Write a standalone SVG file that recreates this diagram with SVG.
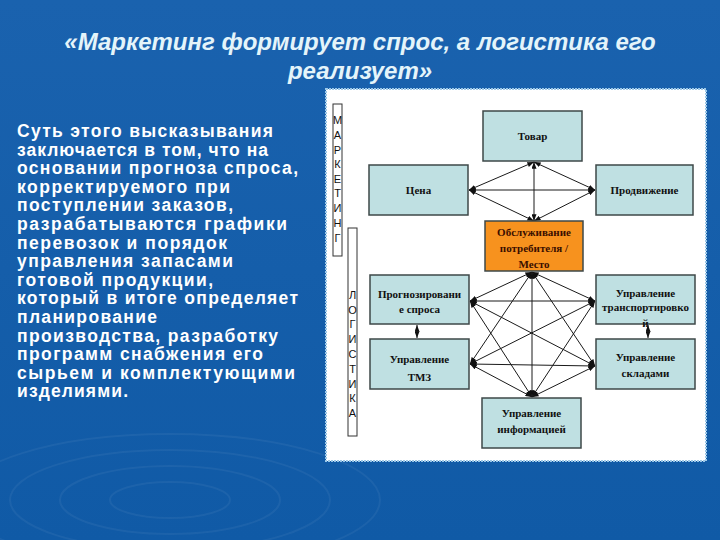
<svg xmlns="http://www.w3.org/2000/svg" width="720" height="540" viewBox="0 0 720 540">
<defs>
<linearGradient id="bg" x1="0" y1="0" x2="0" y2="1">
<stop offset="0" stop-color="#1A62AE"/>
<stop offset="1" stop-color="#105AA6"/>
</linearGradient>
<marker id="ar" viewBox="0 0 8 6" refX="8" refY="3" markerWidth="7" markerHeight="5" markerUnits="userSpaceOnUse" orient="auto-start-reverse">
<path d="M0,0 L8,3 L0,6 z" fill="#111"/>
</marker>
<style>
.title{font-family:"Liberation Sans",Arial,sans-serif;font-weight:bold;font-style:italic;font-size:24px;fill:#E4F4FA;text-anchor:middle}
.body{font-family:"Liberation Sans",Arial,sans-serif;font-weight:bold;font-size:17.5px;fill:#FFFFFF}
.box{fill:#BFE0E2;stroke:#3E4848;stroke-width:1.5}
.org{fill:#F7921E;stroke:#3E4848;stroke-width:1.5}
.lbl{font-family:"Liberation Serif","Times New Roman",serif;font-weight:bold;font-size:11px;fill:#111;text-anchor:middle}
.olbl{font-family:"Liberation Serif","Times New Roman",serif;font-weight:bold;font-size:11px;fill:#3A0E00;text-anchor:middle}
.vbar{fill:#FFFFFF;stroke:#333;stroke-width:1}
.vl{font-family:"Liberation Sans",Arial,sans-serif;font-size:11px;fill:#111;text-anchor:middle}
.c{stroke:#1A1A1A;stroke-width:1;fill:none;marker-start:url(#ar);marker-end:url(#ar)}
.rip{fill:none;stroke:#FFFFFF;stroke-opacity:0.05;stroke-width:2}
</style>
</defs>
<rect width="720" height="540" fill="url(#bg)"/>
<g id="ripples">
<ellipse class="rip" cx="170" cy="500" rx="60" ry="18"/>
<ellipse class="rip" cx="170" cy="500" rx="110" ry="34"/>
<ellipse class="rip" cx="170" cy="500" rx="160" ry="50"/>
<ellipse class="rip" cx="170" cy="500" rx="210" ry="66"/>
</g>
<g id="title">
<text class="title" x="360" y="50">«Маркетинг формирует спрос, а логистика его</text>
<text class="title" x="360" y="79">реализует»</text>
</g>
<g id="bodytext" class="body">
<text x="17" y="137" textLength="256" lengthAdjust="spacing">Суть этого высказывания</text>
<text x="17" y="155.6" textLength="251" lengthAdjust="spacing">заключается в том, что на</text>
<text x="17" y="174.2" textLength="281" lengthAdjust="spacing">основании прогноза спроса,</text>
<text x="17" y="192.8" textLength="213" lengthAdjust="spacing">корректируемого при</text>
<text x="17" y="211.4" textLength="216" lengthAdjust="spacing">поступлении заказов,</text>
<text x="17" y="230" textLength="270" lengthAdjust="spacing">разрабатываются графики</text>
<text x="17" y="248.6" textLength="210" lengthAdjust="spacing">перевозок и порядок</text>
<text x="17" y="267.2" textLength="216" lengthAdjust="spacing">управления запасами</text>
<text x="17" y="285.8" textLength="196" lengthAdjust="spacing">готовой продукции,</text>
<text x="17" y="304.4" textLength="281" lengthAdjust="spacing">который в итоге определяет</text>
<text x="17" y="323" textLength="140" lengthAdjust="spacing">планирование</text>
<text x="17" y="341.6" textLength="261" lengthAdjust="spacing">производства, разработку</text>
<text x="17" y="360.2" textLength="246" lengthAdjust="spacing">программ снабжения его</text>
<text x="17" y="378.8" textLength="278" lengthAdjust="spacing">сырьем и комплектующими</text>
<text x="17" y="397.4" textLength="111" lengthAdjust="spacing">изделиями.</text>
</g>
<g id="panel">
<rect x="326" y="89" width="380" height="372" fill="#FFFFFF" stroke="#9CC8E8" stroke-width="2" stroke-dasharray="2 1"/>
</g>
<g id="marketing-bar">
<rect class="vbar" x="333" y="104" width="9" height="152"/>
<text class="vl" x="337.5" y="124">М</text>
<text class="vl" x="337.5" y="139">А</text>
<text class="vl" x="337.5" y="154">Р</text>
<text class="vl" x="337.5" y="168">К</text>
<text class="vl" x="337.5" y="183">Е</text>
<text class="vl" x="337.5" y="197">Т</text>
<text class="vl" x="337.5" y="212">И</text>
<text class="vl" x="337.5" y="227">Н</text>
<text class="vl" x="337.5" y="242">Г</text>
</g>
<g id="logistics-bar">
<rect class="vbar" x="348" y="228" width="9" height="208"/>
<text class="vl" x="352.5" y="299">Л</text>
<text class="vl" x="352.5" y="314">О</text>
<text class="vl" x="352.5" y="328">Г</text>
<text class="vl" x="352.5" y="343">И</text>
<text class="vl" x="352.5" y="358">С</text>
<text class="vl" x="352.5" y="373">Т</text>
<text class="vl" x="352.5" y="388">И</text>
<text class="vl" x="352.5" y="402">К</text>
<text class="vl" x="352.5" y="417">А</text>
</g>
<g id="connectors">
<line class="c" x1="534" y1="162" x2="469" y2="190"/>
<line class="c" x1="534" y1="162" x2="595" y2="190"/>
<line class="c" x1="534" y1="162" x2="534" y2="221"/>
<line class="c" x1="469" y1="190" x2="595" y2="190"/>
<line class="c" x1="469" y1="190" x2="534" y2="221"/>
<line class="c" x1="595" y1="190" x2="534" y2="221"/>
<line class="c" x1="532" y1="272" x2="470" y2="301"/>
<line class="c" x1="532" y1="272" x2="595" y2="301"/>
<line class="c" x1="532" y1="272" x2="470" y2="364"/>
<line class="c" x1="532" y1="272" x2="595" y2="366"/>
<line class="c" x1="532" y1="272" x2="532" y2="397"/>
<line class="c" x1="470" y1="301" x2="595" y2="301"/>
<line class="c" x1="470" y1="301" x2="595" y2="366"/>
<line class="c" x1="470" y1="301" x2="532" y2="397"/>
<line class="c" x1="595" y1="301" x2="470" y2="364"/>
<line class="c" x1="595" y1="301" x2="532" y2="397"/>
<line class="c" x1="470" y1="364" x2="595" y2="366" stroke-width="1.6"/>
<line class="c" x1="470" y1="364" x2="532" y2="397"/>
<line class="c" x1="595" y1="366" x2="532" y2="397"/>
<line class="c" x1="417" y1="325" x2="417" y2="338"/>
<line class="c" x1="648" y1="325" x2="648" y2="338"/>
</g>
<g id="tovar">
<rect class="box" x="483" y="111" width="99" height="50"/>
<text class="lbl" x="532.5" y="140">Товар</text>
</g>
<g id="cena">
<rect class="box" x="369" y="165" width="99" height="50"/>
<text class="lbl" x="418.5" y="194">Цена</text>
</g>
<g id="prodvizhenie">
<rect class="box" x="596" y="165" width="97" height="50"/>
<text class="lbl" x="644.5" y="194">Продвижение</text>
</g>
<g id="obsluzhivanie">
<rect class="org" x="485" y="221" width="98" height="50"/>
<text class="olbl" x="534" y="236">Обслуживание</text>
<text class="olbl" x="534" y="252">потребителя /</text>
<text class="olbl" x="534" y="268">Место</text>
</g>
<g id="prognoz">
<rect class="box" x="370" y="275" width="99" height="49"/>
<text class="lbl" x="419.5" y="298">Прогнозировани</text>
<text class="lbl" x="419.5" y="313">е спроса</text>
</g>
<g id="tmz">
<rect class="box" x="370" y="339" width="99" height="50"/>
<text class="lbl" x="419.5" y="363">Управление</text>
<text class="lbl" x="419.5" y="381">ТМЗ</text>
</g>
<g id="transport">
<rect class="box" x="596" y="275" width="99" height="49"/>
<text class="lbl" x="645.5" y="297">Управление</text>
<text class="lbl" x="645.5" y="311">транспортировко</text>
<text class="lbl" x="645.5" y="327">й</text>
</g>
<g id="sklady">
<rect class="box" x="596" y="339" width="99" height="50"/>
<text class="lbl" x="645.5" y="361">Управление</text>
<text class="lbl" x="645.5" y="377">складами</text>
</g>
<g id="informaciya">
<rect class="box" x="482" y="398" width="99" height="50"/>
<text class="lbl" x="531.5" y="417">Управление</text>
<text class="lbl" x="531.5" y="433">информацией</text>
</g>
</svg>
